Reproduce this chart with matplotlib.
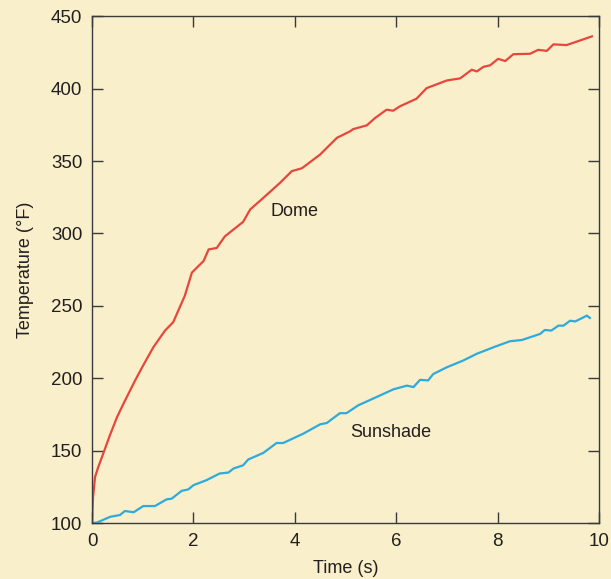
import numpy as np
import matplotlib.pyplot as plt

plt.rcParams['font.family'] = ['Liberation Sans', 'DejaVu Sans']

# Dome (red)
dome_t = [0.0, 0.02, 0.06, 0.12, 0.22, 0.35, 0.49, 0.62, 0.85, 1.01, 1.21, 1.44, 1.60, 1.83,
          1.97, 2.20, 2.30, 2.46, 2.62, 2.98, 3.12, 3.38, 3.71, 3.94, 4.14, 4.50,
          4.83, 5.09, 5.15, 5.42, 5.58, 5.81, 5.94, 6.07, 6.40, 6.60, 7.00, 7.26,
          7.49, 7.59, 7.72, 7.85, 8.01, 8.15, 8.31, 8.64, 8.80, 8.97, 9.10, 9.36,
          9.86]
dome_T = [101, 118, 132, 138.5, 148, 160.5, 173, 182.5, 198.6, 209, 221.5, 233, 238.7, 257,
          273, 281, 289, 290, 298, 308, 316.6, 324.6, 335, 343, 345, 354.5,
          366, 370.5, 372, 374.6, 379.6, 385.4, 384.7, 387.7, 393, 400.3, 405.6, 407,
          413, 411.8, 415, 416, 420.5, 419, 423.7, 424, 426.7, 426, 430.5, 430,
          436]

# Sunshade (blue)
sun_t = [0.0, 0.09, 0.36, 0.55, 0.65, 0.82, 1.01, 1.24, 1.47, 1.57, 1.77, 1.90,
         2.00, 2.26, 2.52, 2.69, 2.79, 2.98, 3.08, 3.38, 3.64, 3.77, 4.17, 4.50,
         4.63, 4.89, 5.02, 5.25, 5.68, 5.94, 6.21, 6.34, 6.47, 6.63, 6.73, 7.00,
         7.32, 7.59, 7.92, 8.24, 8.48, 8.84, 8.93, 9.06, 9.20, 9.30, 9.43, 9.53,
         9.63, 9.76, 9.82]
sun_T = [100.4, 100.4, 104.5, 105.7, 108.5, 107.6, 111.9, 111.9, 116.5, 117, 122.4, 123.4,
         126.3, 129.8, 134.4, 135, 137.8, 140, 144, 148.6, 155.4, 155.4, 161.9, 168.3,
         169.2, 176, 176, 181.4, 188.2, 192.4, 195, 194, 199, 198.6, 203, 207.7,
         212.3, 217, 221.5, 225.6, 226.5, 230.7, 233.4, 233, 236.4, 236.4, 239.8, 239.3,
         241, 243.3, 241.7]

bg = '#f9efca'
ink = '#231f20'

fig = plt.figure(figsize=(6.11, 5.79), dpi=100, facecolor=bg)
ax = fig.add_axes([0.1506, 0.0962, 0.8298, 0.876], facecolor=bg)

ax.plot(dome_t, dome_T, color='#e8463c', lw=1.6, solid_joinstyle='round')
ax.plot(sun_t, sun_T, color='#2eaadc', lw=1.6, solid_joinstyle='round')

ax.set_xlim(0, 10)
ax.set_ylim(100, 450)
ax.set_xticks([0, 2, 4, 6, 8, 10])
ax.set_yticks([100, 150, 200, 250, 300, 350, 400, 450])
ax.tick_params(direction='in', length=8, width=1.0, color='#3a3a3a',
               top=True, right=True, labelsize=13.5, labelcolor=ink, pad=7)
for s in ax.spines.values():
    s.set_color('#3a3a3a')
    s.set_linewidth(1.0)

ax.set_xlabel('Time (s)', fontsize=13, color=ink, labelpad=7)
ax.set_ylabel('Temperature (°F)', fontsize=13, color=ink, labelpad=12)

ax.text(4.0, 315, 'Dome', fontsize=13, color=ink, ha='center', va='center')
ax.text(5.9, 163, 'Sunshade', fontsize=13, color=ink, ha='center', va='center')

plt.savefig('out.png', dpi=100, facecolor=bg)
